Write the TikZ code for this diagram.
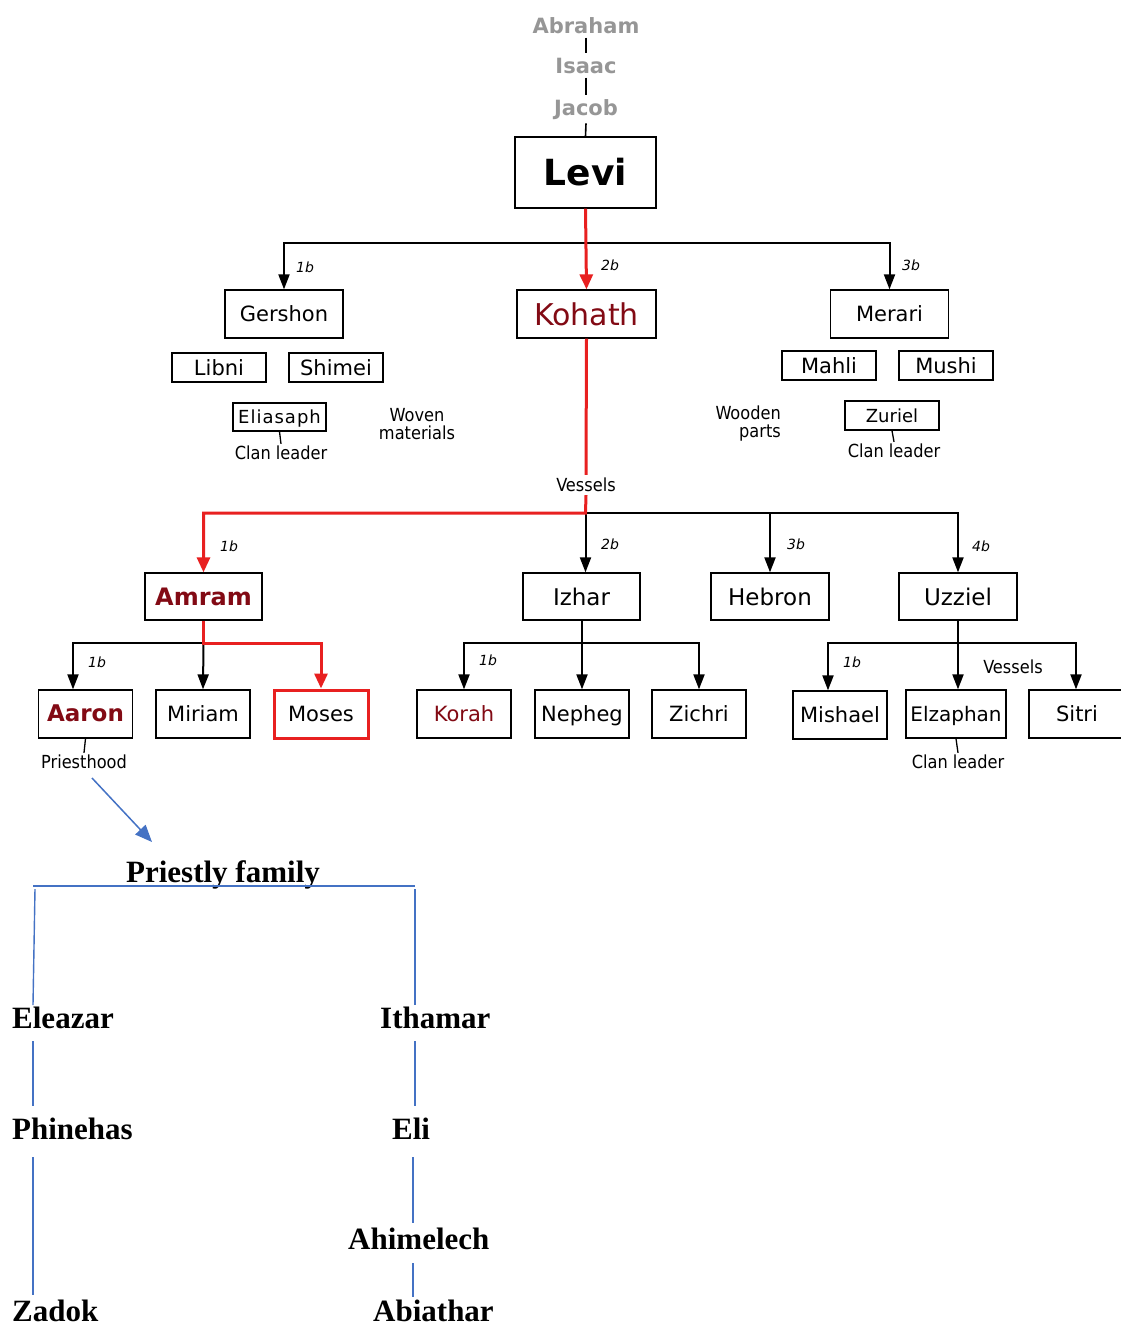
\documentclass[tikz,border=0pt]{standalone}
\usepackage{fontspec}
\newfontfamily\vf{DejaVu Sans}
\newfontfamily\vfc{DejaVu Sans Condensed}
\newfontfamily\tnr{Liberation Serif}
\usetikzlibrary{arrows.meta}
\definecolor{dred}{RGB}{130,10,20}
\definecolor{bred}{RGB}{232,32,32}
\definecolor{pblue}{RGB}{68,114,196}
\definecolor{anc}{RGB}{150,150,150}
\newcommand{\fsz}[1]{\fontsize{#1}{#1}\selectfont}
\begin{document}
\begin{tikzpicture}[x=1pt,y=-1pt,
  box/.style={draw=black,line width=1.3pt,inner sep=0pt,fill=white,font=\vf\fsz{21}},
  even/.style={text height=20pt,text depth=5pt},
  evensm/.style={text height=17pt,text depth=4pt},
  bigbox/.style={box,even,minimum width=118pt,minimum height=48pt},
  kidbox/.style={box,even,minimum width=94pt,minimum height=48pt},
  smallbox/.style={box,even,minimum width=94pt,minimum height=29pt},
  ancestor/.style={font=\vf\bfseries\fsz{21},text=anc,inner xsep=0pt,inner ysep=4pt,anchor=base},
  note/.style={font=\vfc\fsz{18},inner sep=2pt},
  ord/.style={font=\vf\itshape\fsz{14},inner sep=0pt},
  blk/.style={draw=black,line width=2pt},
  blkarr/.style={blk,-{Triangle[length=15pt,width=11pt]}},
  red/.style={draw=bred,line width=3pt},
  redarr/.style={red,-{Triangle[length=15pt,width=13pt]}},
  tick/.style={draw=black,line width=1.3pt},
  tree/.style={draw=pblue,line width=1.4pt},
  pname/.style={font=\tnr\bfseries\fsz{31},inner sep=0pt,anchor=base west}
]
\useasboundingbox (0,0) rectangle (1121,1326);

% ancestors
\node[ancestor] (abraham) at (586,33) {Abraham};
\node[ancestor] (isaac) at (586,73) {Isaac};
\node[ancestor] (jacob) at (586,115) {Jacob};

% Levi
\node[box,minimum width=141pt,minimum height=71pt,font=\vf\bfseries\fsz{36}] (levi) at (585.5,172.5) {Levi};
\draw[tick,line width=1.6pt] (abraham.south) -- (isaac.north);
\draw[tick,line width=1.6pt] (isaac.south) -- (jacob.north);
\draw[tick,line width=1.6pt] (jacob.south) -- (levi.north);

% sons of Levi
\node[bigbox] (gershon) at (284,314) {Gershon};
\node[box,minimum width=139pt,minimum height=48pt,font=\vf\fsz{30},text=dred] (kohath) at (586.5,314) {Kohath};
\node[bigbox] (merari) at (889.5,314) {Merari};

\coordinate (lb) at (585.5,243);
\draw[blkarr] (lb) -| (gershon.north);
\draw[blkarr] (lb) -| (merari.north);
\draw[redarr] (levi.south) -- (kohath.north);
\node[ord] (o1) at (305,267) {1b};
\node[ord] (o2) at (610,265) {2b};
\node[ord] (o3) at (911,265) {3b};

% Gershon clan
\node[smallbox] (libni) at (219,367.5) {Libni};
\node[smallbox] (shimei) at (336,367.5) {Shimei};
\node[box,evensm,minimum width=93pt,minimum height=28pt,font=\vf\fsz{18}] (eliasaph) at (279.5,417) {E\kern1pt l\kern1pt i\kern1pt a\kern1pt s\kern1pt a\kern1pt p\kern1pt h};
\node[note] (cl1) at (281,453) {Clan leader};
\draw[tick] (eliasaph.south) -- (cl1.north);
\node[note,align=center] (woven) at (417,424) {Woven\\materials};

% Merari clan
\node[smallbox] (mahli) at (829,365.5) {Mahli};
\node[smallbox] (mushi) at (946,365.5) {Mushi};
\node[note,align=right,anchor=east] (wooden) at (783,424) {Wooden\\parts};
\node[box,evensm,minimum width=94pt,minimum height=29pt,font=\vf\fsz{18}] (zuriel) at (892,415.5) {Zuriel};
\node[note] (cl2) at (894,451) {Clan leader};
\draw[tick] (zuriel.south) -- (cl2.north);

% Kohath's sons
\node[note,inner ysep=3pt] (vessels) at (586,485) {Vessels};
\node[box,minimum width=117pt,minimum height=47pt,font=\vf\bfseries\fsz{24},text=dred] (amram) at (203.5,596.5) {Amram};
\node[box,minimum width=117pt,minimum height=47pt,font=\vf\fsz{23}] (izhar) at (581.5,596.5) {Izhar};
\node[box,minimum width=118pt,minimum height=47pt,font=\vf\fsz{23}] (hebron) at (770,596.5) {Hebron};
\node[box,minimum width=118pt,minimum height=47pt,font=\vf\fsz{23}] (uzziel) at (958,596.5) {Uzziel};

\coordinate (kb) at (585.5,513);
\draw[blkarr] (kb) -- (kb |- izhar.north);
\draw[blkarr] (kb) -| (hebron.north);
\draw[blkarr] (kb) -| (uzziel.north);
\draw[red] (kohath.south) -- (vessels.north);
\draw[redarr] (vessels.south) -- (kb) -| (amram.north);
\node[ord] (o4) at (229,546) {1b};
\node[ord] (o5) at (610,544) {2b};
\node[ord] (o6) at (796,544) {3b};
\node[ord] (o7) at (981,546) {4b};

% Amram's children
\node[kidbox,font=\vf\bfseries\fsz{23},text=dred] (aaron) at (85.5,714) {Aaron};
\node[kidbox] (miriam) at (203,714) {Miriam};
\node[kidbox,draw=bred,line width=3pt] (moses) at (321,714) {Moses};
\coordinate (ab) at (203.5,643);
\draw[blkarr] (ab) -| ([xshift=-12.5pt]aaron.north);
\draw[blkarr] (ab) -- (miriam.north);
\draw[redarr] (amram.south) -- (ab) -| (moses.north);
\node[ord] (o8) at (97,662) {1b};
\node[note] (priesthood) at (84,762) {Priesthood};
\draw[tick] (aaron.south) -- (priesthood.north);

% Izhar's children
\node[kidbox,text=dred] (korah) at (464,714) {Korah};
\node[kidbox] (nepheg) at (582,714) {Nepheg};
\node[kidbox] (zichri) at (699,714) {Zichri};
\coordinate (ib) at (582,643);
\draw[blk] (izhar.south -| ib) -- (ib);
\draw[blkarr] (ib) -| (korah.north);
\draw[blkarr] (ib) -- (nepheg.north);
\draw[blkarr] (ib) -| (zichri.north);
\node[ord] (o9) at (488,660) {1b};

% Uzziel's children
\node[kidbox] (mishael) at (840,715) {Mishael};
\node[box,even,minimum width=100pt,minimum height=48pt,font=\vf\fsz{20}] (elzaphan) at (956,714) {Elzaphan};
\node[kidbox,minimum width=96pt] (sitri) at (1077,714) {Sitri};
\coordinate (ub) at (958,643);
\draw[blk] (uzziel.south) -- (ub);
\draw[blkarr] (ub) -| ([xshift=-12pt]mishael.north);
\draw[blkarr] (ub) -- (ub |- elzaphan.north);
\draw[blkarr] (ub) -| ([xshift=-1pt]sitri.north);
\node[ord] (o10) at (852,662) {1b};
\node[note] (vessels2) at (1013,667) {Vessels};
\node[note] (cl3) at (958,762) {Clan leader};
\draw[tick] (elzaphan.south) -- (cl3.north);

% Priestly family
\node[pname,anchor=base] (pf) at (223,882) {Priestly family};
\coordinate (ps) at (92,778);
\coordinate (pe) at (152,842);
\draw[tree,line width=1.5pt,-{Triangle[length=17pt,width=14pt]}] (ps) -- (pe);

\node[pname] (eleazar) at (12,1028) {Eleazar};
\node[pname] (ithamar) at (380,1028) {Ithamar};
\node[pname] (phinehas) at (12,1139) {Phinehas};
\node[pname] (eli) at (392,1139) {Eli};
\node[pname] (ahimelech) at (348,1249) {Ahimelech};
\node[pname] (zadok) at (12,1321) {Zadok};
\node[pname] (abiathar) at (373,1321) {Abiathar};

\coordinate (tl) at (33,886);
\coordinate (tr) at (415,886);
\draw[tree] (tl) -- (tr);
\coordinate (a1) at (35,889); \coordinate (a2) at (33,1005);
\draw[tree] (a1) -- (a2);
\coordinate (b1) at (415,889); \coordinate (b2) at (415,1005);
\draw[tree] (b1) -- (b2);
\coordinate (c1) at (33,1041); \coordinate (c2) at (33,1106);
\draw[tree] (c1) -- (c2);
\coordinate (d1) at (415,1041); \coordinate (d2) at (415,1106);
\draw[tree] (d1) -- (d2);
\coordinate (e1) at (33,1157); \coordinate (e2) at (33,1295);
\draw[tree] (e1) -- (e2);
\coordinate (f1) at (413,1157); \coordinate (f2) at (413,1223);
\draw[tree] (f1) -- (f2);
\coordinate (g1) at (413,1263); \coordinate (g2) at (413,1297);
\draw[tree] (g1) -- (g2);
\end{tikzpicture}
\end{document}
